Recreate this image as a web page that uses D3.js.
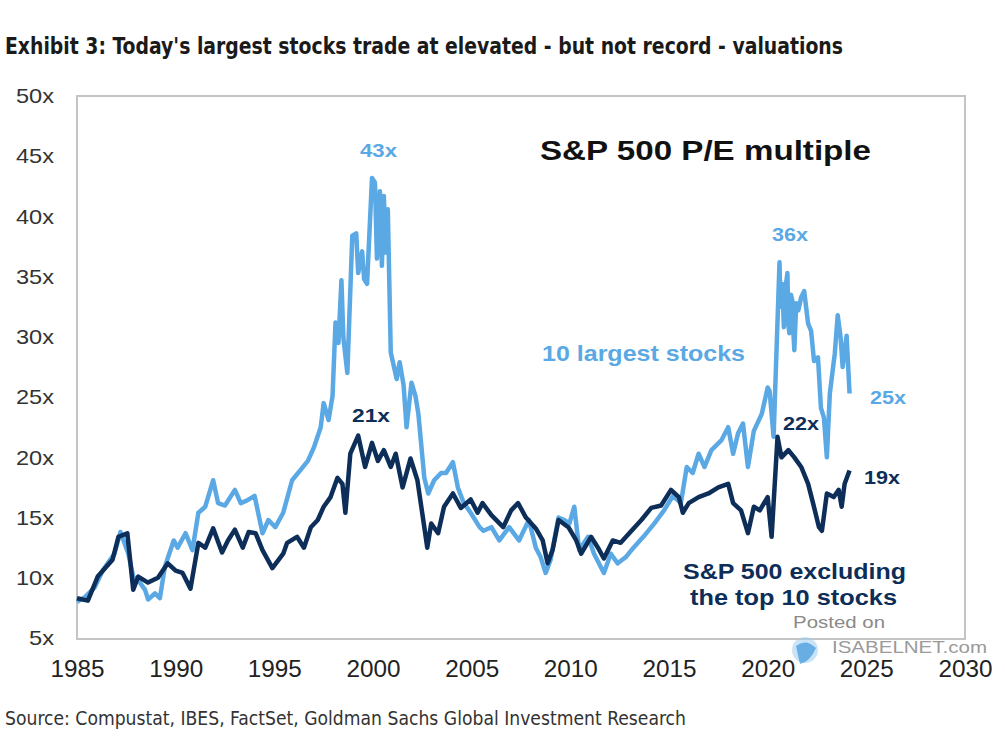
<!DOCTYPE html>
<html><head><meta charset="utf-8">
<script src="https://cdn.jsdelivr.net/npm/d3@7/dist/d3.min.js"></script>
<style>html,body{margin:0;padding:0;background:#fff;}svg{display:block;}</style>
</head><body>
<svg id="chart" width="1005" height="753"></svg>
<script>
// ---- Data ----
const top10Dates = [1985.0,1985.4,1985.9,1986.3,1986.6,1986.9,1987.2,1987.4,1987.6,1987.85,1988.1,1988.45,1988.6,1988.95,1989.2,1989.45,1989.9,1990.1,1990.5,1990.85,1991.15,1991.5,1991.9,1992.15,1992.5,1993.0,1993.3,1993.6,1994.0,1994.4,1994.7,1995.05,1995.45,1995.9,1996.3,1996.7,1997.0,1997.35,1997.5,1997.75,1997.95,1998.1,1998.25,1998.4,1998.5,1998.7,1998.95,1999.15,1999.25,1999.45,1999.55,1999.7,1999.75,1999.95,2000.1,2000.2,2000.35,2000.45,2000.55,2000.65,2000.75,2000.9,2001.05,2001.2,2001.35,2001.55,2001.7,2001.95,2002.15,2002.3,2002.6,2002.8,2003.1,2003.45,2003.7,2004.05,2004.3,2004.6,2004.95,2005.4,2005.6,2006.0,2006.4,2006.9,2007.4,2007.9,2008.25,2008.5,2008.75,2009.0,2009.4,2009.7,2009.95,2010.2,2010.45,2010.9,2011.2,2011.7,2012.05,2012.4,2012.8,2013.2,2013.7,2014.25,2014.75,2015.2,2015.6,2015.9,2016.2,2016.5,2016.8,2017.15,2017.65,2018.0,2018.25,2018.5,2018.75,2019.0,2019.3,2019.7,2020.0,2020.1,2020.3,2020.6,2020.65,2020.75,2020.82,2020.9,2021.0,2021.05,2021.1,2021.18,2021.25,2021.3,2021.35,2021.45,2021.55,2021.7,2021.85,2022.05,2022.2,2022.35,2022.55,2022.7,2022.85,2023.0,2023.15,2023.4,2023.55,2023.7,2023.8,2024.0,2024.15];
const top10Values = [8.0,8.4,9.2,10.6,11.3,12.0,13.8,12.9,12.0,10.1,9.8,9.0,8.2,8.7,8.3,10.9,13.1,12.5,13.7,12.3,15.4,15.9,18.1,16.2,16.0,17.3,16.2,16.4,16.8,13.7,14.8,14.2,15.4,18.1,18.9,19.7,20.8,22.5,24.5,23.1,25.1,31.2,29.5,34.7,29.9,27.0,38.4,38.6,35.3,37.1,34.8,34.4,36.2,43.2,42.8,36.5,42.1,35.9,41.7,37.0,40.6,28.7,27.6,26.5,27.9,26.0,22.5,26.2,25.1,23.6,18.3,17.0,18.1,18.7,18.7,19.6,17.5,16.2,15.4,14.2,13.9,14.2,13.1,14.2,13.1,14.8,12.5,11.7,10.4,11.5,15.0,14.8,14.5,15.9,12.3,13.4,12.0,10.4,12.0,11.2,11.7,12.5,13.4,14.5,15.6,16.8,16.2,19.2,18.7,20.3,19.2,20.6,21.4,22.5,20.3,22.0,22.8,19.2,22.2,23.6,25.8,25.5,21.7,36.2,32.5,34.4,30.8,34.0,35.3,31.0,30.3,33.5,33.0,30.5,28.9,32.8,32.2,33.3,33.8,31.1,30.5,28.0,28.3,24.1,23.3,20.0,25.3,28.6,31.8,29.9,27.5,30.1,25.3];

const restDates = [1985.0,1985.55,1986.05,1986.8,1987.1,1987.55,1987.85,1988.1,1988.6,1989.1,1989.6,1990.0,1990.35,1990.75,1991.15,1991.5,1991.9,1992.35,1992.65,1993.0,1993.4,1993.7,1994.05,1994.4,1994.9,1995.45,1995.65,1996.15,1996.5,1996.85,1997.2,1997.5,1997.85,1998.2,1998.45,1998.6,1998.85,1999.25,1999.6,1999.95,2000.25,2000.55,2000.9,2001.15,2001.5,2001.9,2002.25,2002.6,2002.75,2002.95,2003.3,2003.6,2004.05,2004.45,2004.95,2005.3,2005.55,2006.0,2006.6,2007.0,2007.35,2007.75,2008.25,2008.6,2008.85,2009.1,2009.4,2009.9,2010.3,2010.55,2011.05,2011.4,2011.7,2012.15,2012.55,2013.1,2013.6,2014.1,2014.6,2015.1,2015.5,2015.7,2016.0,2016.5,2017.0,2017.5,2018.0,2018.25,2018.65,2019.0,2019.3,2019.6,2020.0,2020.2,2020.5,2020.7,2021.05,2021.35,2021.7,2022.05,2022.3,2022.6,2022.75,2023.0,2023.35,2023.6,2023.75,2023.9,2024.15];
const restValues = [8.3,8.1,10.1,11.5,13.4,13.7,9.0,10.1,9.6,10.0,11.2,10.6,10.4,9.1,12.9,12.5,14.1,12.1,13.1,14.0,12.5,13.8,13.7,12.3,10.8,12.0,12.9,13.4,12.5,14.2,14.8,15.9,16.7,18.3,17.8,15.4,20.3,21.8,19.2,21.2,19.7,20.6,19.2,20.3,17.5,19.9,18.1,14.2,12.5,14.5,13.7,15.9,17.0,15.8,16.5,15.4,16.2,15.2,14.2,15.6,16.2,15.0,14.1,13.1,11.2,12.3,14.8,14.2,13.1,12.0,13.4,12.5,11.6,13.1,12.9,13.9,14.8,15.8,16.0,17.3,16.7,15.4,16.2,16.7,17.0,17.5,17.8,16.2,15.6,13.7,15.9,15.6,16.7,13.4,21.7,20.0,20.6,20.0,19.2,17.8,16.2,14.2,13.9,17.0,16.7,17.3,15.9,17.8,18.9];

const yTicks = [5,10,15,20,25,30,35,40,45,50];
const xTicks = [1985,1990,1995,2000,2005,2010,2015,2020,2025,2030];

// ---- Layout ----
const svg = d3.select("#chart");
const X0 = 77, X1 = 965, Y0 = 638, Y1 = 96;
const x = d3.scaleLinear().domain([1985, 2030]).range([X0, X1]);
const y = d3.scaleLinear().domain([5, 50]).range([Y0, Y1]);

const LIGHT = "#5AA8E4", DARK = "#0D2E58";

// Title
svg.append("text").attr("x", 5).attr("y", 54)
  .attr("font-family", "'Liberation Sans Narrow','DejaVu Sans Condensed','Roboto Condensed',sans-serif")
  .attr("font-weight", "bold").attr("font-size", 23).attr("fill", "#1a1a1a")
  .attr("textLength", 838).attr("lengthAdjust", "spacingAndGlyphs")
  .text("Exhibit 3: Today's largest stocks trade at elevated - but not record - valuations");

// Frame
svg.append("rect").attr("x", X0).attr("y", Y1).attr("width", X1 - X0).attr("height", Y0 - Y1 + 1)
  .attr("fill", "none").attr("stroke", "#c4c4c4").attr("stroke-width", 2);

// Y axis labels
const yAxis = d3.axisLeft(y).tickValues(yTicks).tickFormat(d => d + "x").tickSize(0).tickPadding(0);
const gy = svg.append("g").attr("transform", "translate(54,0)").call(yAxis);
gy.select(".domain").remove();
gy.selectAll("text").attr("font-family", "'Liberation Sans',Arial,sans-serif").attr("font-size", 21)
  .attr("fill", "#333").attr("textLength", 38).attr("lengthAdjust", "spacingAndGlyphs");
gy.selectAll(".tick text").filter(d => d === 5).attr("textLength", 25);

// X axis labels
const xAxis = d3.axisBottom(x).tickValues(xTicks).tickFormat(d3.format("d")).tickSize(0).tickPadding(0);
const gx = svg.append("g").attr("transform", "translate(0,660)").call(xAxis);
gx.select(".domain").remove();
gx.selectAll("text").attr("font-family", "'Liberation Sans',Arial,sans-serif").attr("font-size", 24)
  .attr("fill", "#222").attr("textLength", 54).attr("lengthAdjust", "spacingAndGlyphs");

// Lines
const line = d3.line().x(d => x(d[0])).y(d => y(d[1])).curve(d3.curveLinear);
const top10 = top10Dates.map((d, i) => [d, top10Values[i]]);
const rest = restDates.map((d, i) => [d, restValues[i]]);

svg.append("path").datum(top10).attr("d", line).attr("fill", "none")
  .attr("stroke", LIGHT).attr("stroke-width", 4.5).attr("stroke-linejoin", "round");
svg.append("path").datum(rest).attr("d", line).attr("fill", "none")
  .attr("stroke", DARK).attr("stroke-width", 4.5).attr("stroke-linejoin", "round");

// Annotations
function label(txt, cx, by, size, color, len, anchor) {
  const t = svg.append("text").attr("x", cx).attr("y", by)
    .attr("font-family", "'Liberation Sans',Arial,sans-serif").attr("font-weight", "bold")
    .attr("font-size", size).attr("fill", color).attr("text-anchor", anchor || "start").text(txt);
  if (len) t.attr("textLength", len).attr("lengthAdjust", "spacingAndGlyphs");
  return t;
}
label("S&P 500 P/E multiple", 540, 160, 27, "#111", 331);
label("43x", 360, 157, 19, LIGHT, 37);
label("36x", 772, 241, 19, LIGHT, 36);
label("25x", 870, 404, 19, LIGHT, 36);
label("21x", 352, 422, 19, DARK, 38);
label("22x", 783, 430, 19, DARK, 36);
label("19x", 864, 484, 19, DARK, 36);
label("10 largest stocks", 542, 361, 22, LIGHT, 203);
label("S&P 500 excluding", 683, 579, 22, DARK, 223);
label("the top 10 stocks", 690, 605, 22, DARK, 207);

// Watermark
svg.append("text").attr("x", 793).attr("y", 628).attr("font-family", "'Liberation Sans',Arial,sans-serif")
  .attr("font-size", 17).attr("fill", "#8a8a8a").attr("textLength", 92).attr("lengthAdjust", "spacingAndGlyphs").text("Posted on");
svg.append("circle").attr("cx", 805).attr("cy", 650).attr("r", 13).attr("fill", "#9fcdf0").attr("opacity", 0.55);
svg.append("path").attr("d", "M796,646 Q806,638 816,648 Q810,662 800,664 Z").attr("fill", "#3f95dc").attr("opacity", 0.7);
svg.append("text").attr("x", 832).attr("y", 653).attr("font-family", "'Liberation Sans',Arial,sans-serif")
  .attr("font-size", 17).attr("fill", "#9a9a9a").attr("textLength", 155).attr("lengthAdjust", "spacingAndGlyphs").text("ISABELNET.com");

// Source
svg.append("text").attr("x", 5).attr("y", 725)
  .attr("font-family", "'Liberation Sans Narrow','DejaVu Sans Condensed',sans-serif")
  .attr("font-size", 19).attr("fill", "#333")
  .attr("textLength", 681).attr("lengthAdjust", "spacingAndGlyphs")
  .text("Source: Compustat, IBES, FactSet, Goldman Sachs Global Investment Research");
</script>
</body></html>
